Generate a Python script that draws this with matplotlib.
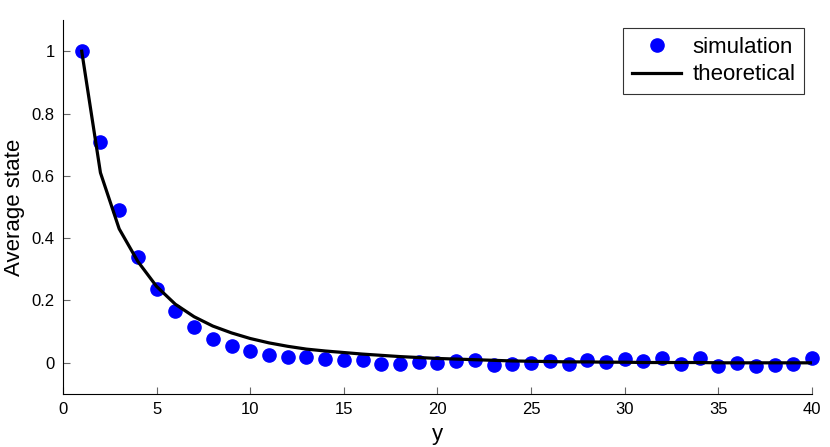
import matplotlib
matplotlib.use("Agg")
import matplotlib.pyplot as plt
from matplotlib.ticker import FuncFormatter

plt.rcParams["font.family"] = ["Liberation Sans", "DejaVu Sans"]

steps = list(range(1, 41))
simulation = [1.0, 0.707, 0.489, 0.341, 0.238, 0.167, 0.116, 0.077, 0.055, 0.039,
              0.026, 0.019, 0.018, 0.012, 0.010, 0.008, -0.003, -0.005, 0.003, 0.001,
              0.005, 0.010, -0.008, -0.003, -0.002, 0.005, -0.003, 0.008, 0.004, 0.012,
              0.005, 0.016, -0.003, 0.014, -0.010, -0.001, -0.010, -0.008, -0.005, 0.014]
theoretical = [1.0, 0.61, 0.43, 0.325, 0.245, 0.188, 0.148, 0.118, 0.096, 0.078,
               0.064, 0.053, 0.044, 0.038, 0.033, 0.028, 0.024, 0.020, 0.017, 0.014,
               0.012, 0.010, 0.008, 0.006, 0.005, 0.004, 0.003, 0.003, 0.002, 0.002,
               0.001, 0.001, 0.001, 0.001, 0.0, 0.0, 0.0, 0.0, 0.0, 0.0]

fig = plt.figure(figsize=(8.3, 4.47), dpi=100)
ax = fig.add_axes([0.0759, 0.1186, 0.9024, 0.8366])

ax.plot(steps, simulation, "o", color="#0000ff", markersize=9.5, label="simulation", clip_on=False, zorder=3)
ax.plot(steps, theoretical, "-", color="black", linewidth=2.3, label="theoretical", zorder=4)

ax.set_xlim(0, 40)
ax.set_ylim(-0.1, 1.1)
ax.set_xticks(range(0, 41, 5))
ax.set_yticks([0, 0.2, 0.4, 0.6, 0.8, 1.0])
ax.yaxis.set_major_formatter(FuncFormatter(lambda v, p: "%g" % v))
ax.tick_params(direction="in", length=5, color="#666666", labelsize=12, pad=6)

ax.spines["top"].set_visible(False)
ax.spines["right"].set_visible(False)

ax.set_xlabel("y", fontsize=16, labelpad=5)
ax.set_ylabel("Average state", fontsize=16, labelpad=5)

leg = ax.legend(loc="upper right", fontsize=16, fancybox=False, framealpha=1,
                edgecolor="#333333", borderaxespad=0.35, handlelength=2.2,
                borderpad=0.4, labelspacing=0.3, handletextpad=0.5)
leg.get_frame().set_linewidth(0.8)

fig.savefig("out.png", dpi=100)
